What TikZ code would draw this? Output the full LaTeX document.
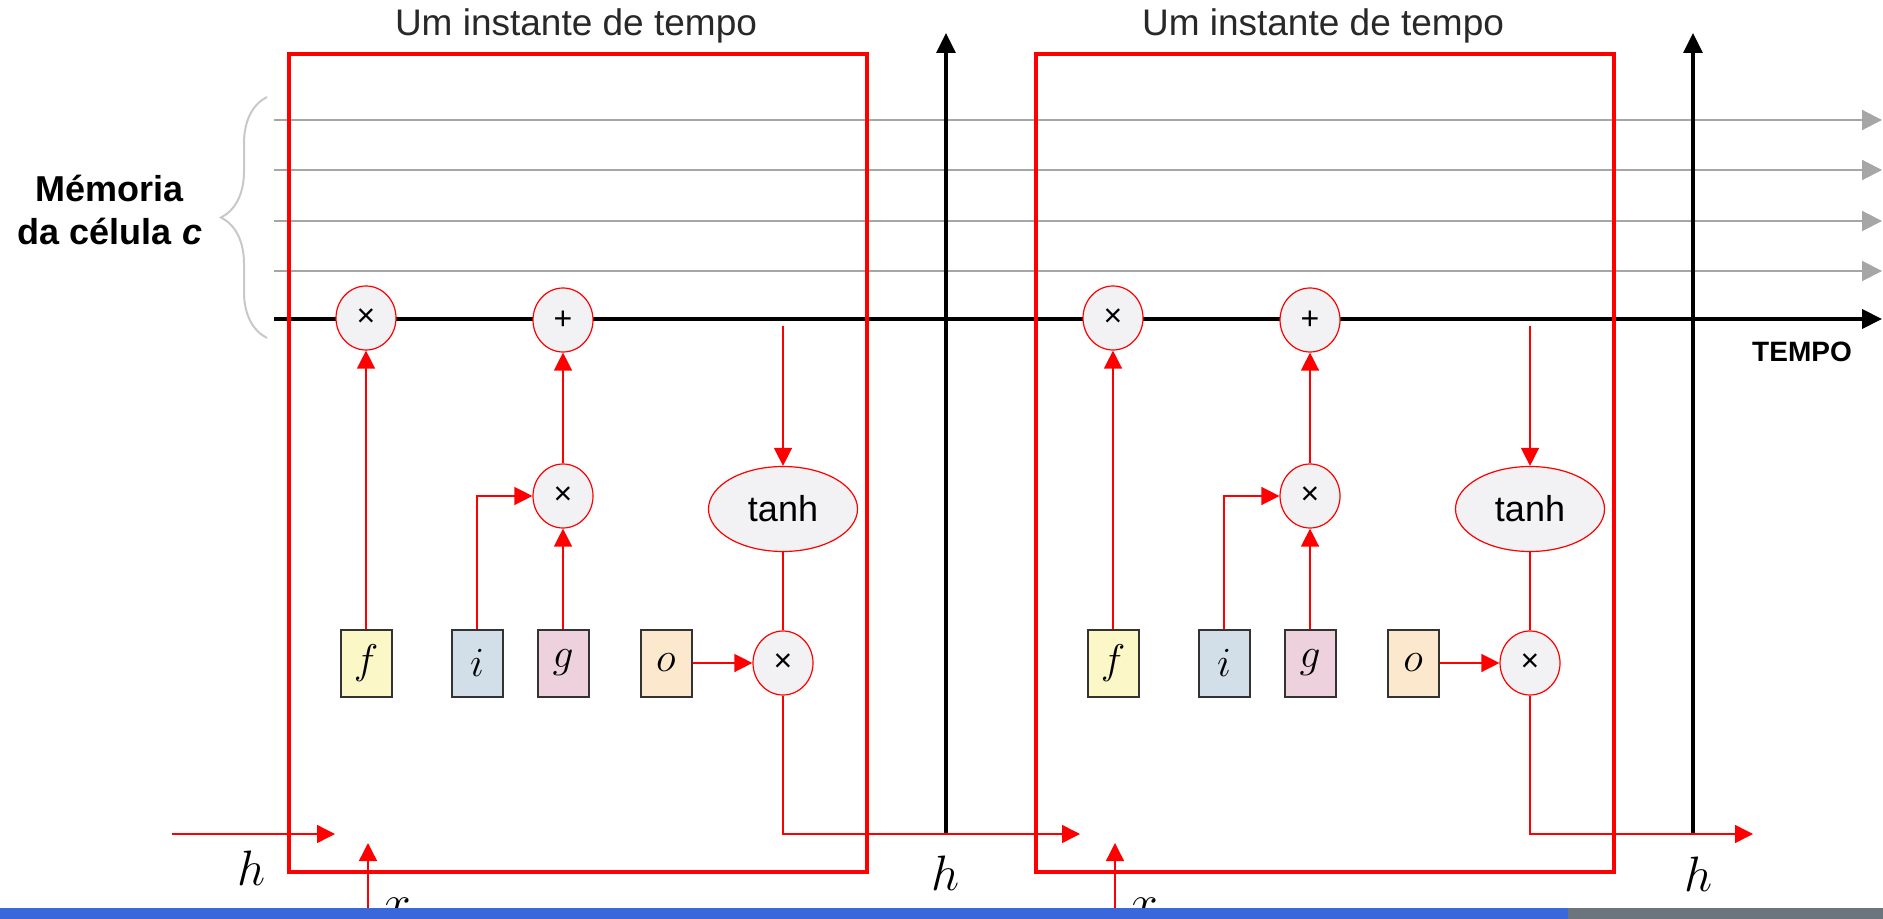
\documentclass[tikz,border=0pt]{standalone}
\usepackage{fontspec}
\setmainfont{Liberation Sans}
\usetikzlibrary{arrows.meta,shapes.geometric,decorations.pathreplacing}
\definecolor{cellred}{RGB}{255,0,0}
\definecolor{opfill}{RGB}{242,242,244}
\definecolor{memgray}{RGB}{166,166,166}
\definecolor{bracegray}{RGB}{200,200,200}
\definecolor{gateline}{RGB}{51,51,51}
\definecolor{ffill}{RGB}{251,247,199}
\definecolor{ifill}{RGB}{210,223,232}
\definecolor{gfill}{RGB}{237,210,222}
\definecolor{ofill}{RGB}{252,232,204}
\definecolor{titlegray}{RGB}{40,40,40}
\definecolor{barblue}{RGB}{58,104,220}
\definecolor{bargray}{RGB}{108,117,125}
\begin{document}
\begin{tikzpicture}[
            x=0.5pt, y=-0.5pt,
            every node/.style={inner sep=0pt},
            title/.style={font=\fontsize{18.5}{18.5}\selectfont, text=titlegray},
            op/.style={ellipse, draw=cellred, line width=0.6pt, fill=opfill, minimum width=30pt, minimum height=32pt, font=\fontsize{16}{16}\selectfont},
            squash/.style={op, minimum width=74.5pt, minimum height=42.5pt, font=\fontsize{18}{18}\selectfont},
            gate/.style={draw=gateline, line width=1pt, minimum width=25.5pt, minimum height=33.5pt, font=\fontsize{22}{22}\selectfont},
            flow/.style={draw=cellred, line width=0.7pt, -{Triangle[length=9pt,width=9pt]}},
            wire/.style={draw=cellred, line width=0.7pt},
            cellbox/.style={draw=cellred, line width=1.9pt},
            memline/.style={draw=memgray, line width=1pt, -{Triangle[length=10pt,width=10pt]}},
            cline/.style={draw=black, line width=2pt, -{Triangle[length=10pt,width=9.5pt]}},
            axis/.style={draw=black, line width=1.6pt, -{Triangle[length=10pt,width=9.5pt]}},
            var/.style={font=\fontsize{24}{24}\selectfont}
            ]
\useasboundingbox (0,0) rectangle (1883,919);
\foreach \y in {120,170,221,271}
  \draw[memline] (274,\y) -- (1882,\y);
\draw[cline] (274,319) -- (1882,319);
\draw[axis] (946,833) -- (946,33);
\draw[axis] (1693,833) -- (1693,33);
\draw[decorate, decoration={brace, amplitude=23pt}, bracegray, line width=1pt] (267,338) -- (267,97);
\node[font=\bfseries\fontsize{18}{21.5}\selectfont, align=center] (mem) at (110,210) {Mémoria\\da célula \textit{c}};
\node[font=\bfseries\fontsize{14}{14}\selectfont] (tempo) at (1802,352) {TEMPO};
\foreach \dx/\hx [count=\i] in {0/1080, 747/1753} {
  \draw[cellbox] (289+\dx,54) rectangle (867+\dx,872);
  \node[title] (t\i) at (576+\dx,26) {Um instante de tempo};
  \node[op] (fx\i) at (366+\dx,318) {×};
  \node[op] (add\i) at (563+\dx,320) {+};
  \node[op] (ig\i) at (563+\dx,496) {×};
  \node[squash] (tanh\i) at (783+\dx,509) {tanh};
  \node[gate, fill=ffill] (f\i) at (366+\dx,663) {$f$};
  \node[gate, fill=ifill] (i\i) at (477+\dx,663) {$i$};
  \node[gate, fill=gfill] (g\i) at (563+\dx,663) {$g$};
  \node[gate, fill=ofill] (o\i) at (666+\dx,663) {$o$};
  \node[op] (out\i) at (783+\dx,663) {×};
  \coordinate (tap\i) at (783+\dx,326);
  \coordinate (hend\i) at (\hx,834);
  \coordinate (xin\i) at (368+\dx,919);
  \coordinate (xtip\i) at (368+\dx,843);
  \draw[flow] (f\i) -- (fx\i);
  \draw[flow] (g\i) -- (ig\i);
  \draw[flow] (i\i.north) |- (ig\i.west);
  \draw[flow] (ig\i) -- (add\i);
  \draw[flow] (tap\i) -- (tanh\i);
  \draw[wire] (tanh\i) -- (out\i);
  \draw[flow] (o\i) -- (out\i);
  \draw[flow] (out\i) |- (hend\i);
  \draw[flow] (xin\i) -- (xtip\i);
  \node[var] (x\i) at (397+\dx,909) {$x$};
}
\coordinate (hin) at (172,834);
\coordinate (hintip) at (335,834);
\draw[flow] (hin) -- (hintip);
\node[var] (h0) at (252,868) {$h$};
\node[var] (h1) at (946,873) {$h$};
\node[var] (h2) at (1698,874) {$h$};
\fill[barblue] (0,908) rectangle (1568,919);
\fill[bargray] (1568,908) rectangle (1883,919);
\end{tikzpicture}
\end{document}
